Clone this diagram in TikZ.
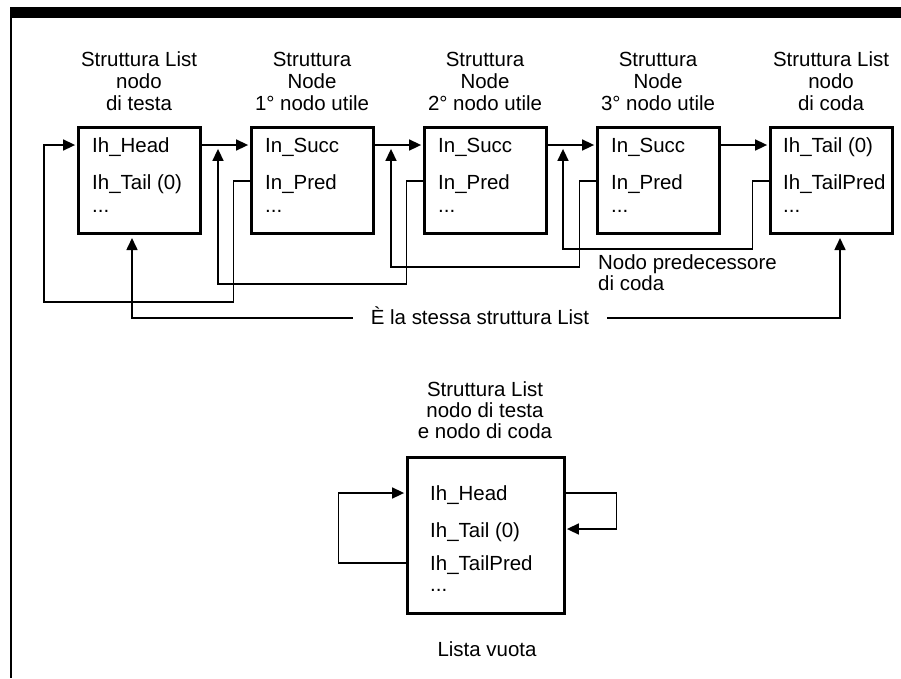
\documentclass[tikz,border=0pt]{standalone}
\usepackage{fontspec}
\setmainfont{Liberation Sans}
\usetikzlibrary{arrows.meta}
\newlength\probew
\newcommand\tf{\fontsize{\fsz}{17}\selectfont}
\newcommand\ctr[2]{\vtop{\baselineskip=#1\relax\halign{\hfil##\hfil\cr#2\crcr}}}
\newcommand\lft[2]{\vtop{\baselineskip=#1\relax\halign{##\hfil\cr#2\crcr}}}
\begin{document}
\settowidth\probew{\fontsize{10}{12}\selectfont Struttura List}%
\pgfmathsetmacro\fsz{10*116/\probew}%
\begin{tikzpicture}[x=1pt,y=-1pt,
  txt/.style={font=\tf, inner sep=0pt},
  box/.style={draw, line width=3pt, minimum width=122pt, minimum height=106pt, inner sep=0pt},
  bigbox/.style={draw, line width=3pt, minimum width=157pt, minimum height=156pt, inner sep=0pt},
  fld/.style={txt, anchor=base west},
  lbl/.style={txt, anchor=base},
  conn/.style={line width=1.6pt},
  arr/.style={conn, -{Triangle[length=12pt,width=11pt]}, shorten >=1.4pt},
]
\useasboundingbox (0,0) rectangle (901,678);
% frame
\fill (10,7) rectangle (901,18);
\draw[line width=2pt] (11,7) -- (11,678);
% boxes
\node[box] (b1) at (139,180) {};
\node[box] (b2) at (312,180) {};
\node[box] (b3) at (485,180) {};
\node[box] (b4) at (658,180) {};
\node[box] (b5) at (831,180) {};
% labels above
\node[lbl] (t1) at (139,66) {\ctr{22pt}{Struttura List\cr nodo\cr di testa}};
\node[lbl] (t2) at (312,66) {\ctr{22pt}{Struttura\cr Node\cr 1° nodo utile}};
\node[lbl] (t3) at (485,66) {\ctr{22pt}{Struttura\cr Node\cr 2° nodo utile}};
\node[lbl] (t4) at (658,66) {\ctr{22pt}{Struttura\cr Node\cr 3° nodo utile}};
\node[lbl] (t5) at (831,66) {\ctr{22pt}{Struttura List\cr nodo\cr di coda}};
% fields
\node[fld] (f1a) at (92,152) {Ih\_Head};
\node[fld] (f1b) at (92,189) {Ih\_Tail (0)};
\node[fld] (f1c) at (92,212) {...};
\node[fld] (f2a) at (265,152) {In\_Succ};
\node[fld] (f2b) at (265,189) {In\_Pred};
\node[fld] (f2c) at (265,212) {...};
\node[fld] (f3a) at (438,152) {In\_Succ};
\node[fld] (f3b) at (438,189) {In\_Pred};
\node[fld] (f3c) at (438,212) {...};
\node[fld] (f4a) at (611,152) {In\_Succ};
\node[fld] (f4b) at (611,189) {In\_Pred};
\node[fld] (f4c) at (611,212) {...};
\node[fld] (f5a) at (783,152) {Ih\_Tail (0)};
\node[fld] (f5b) at (783,189) {Ih\_TailPred};
\node[fld] (f5c) at (783,212) {...};
% helper coordinates
\coordinate (r1) at (0,145);
\coordinate (r2) at (0,181);
\coordinate (r3) at (0,318);
\coordinate (u1) at (218,147.5);
\coordinate (u2) at (391,147.5);
\coordinate (u3) at (563,147.5);
\coordinate (l0) at (44,145);
% successor arrows
\draw[arr] (b1.east |- r1) -- (b2.west |- r1);
\draw[arr] (b2.east |- r1) -- (b3.west |- r1);
\draw[arr] (b3.east |- r1) -- (b4.west |- r1);
\draw[arr] (b4.east |- r1) -- (b5.west |- r1);
% predecessor loops
\draw[arr] (b2.west |- r2) -- ++(-16,0) -- ++(0,121) -| (l0) -- (b1.west |- r1);
\draw[arr] (b3.west |- r2) -- ++(-16,0) -- ++(0,103) -| (u1);
\draw[arr] (b4.west |- r2) -- ++(-16,0) -- ++(0,86) -| (u2);
\draw[arr] (b5.west |- r2) -- ++(-16,0) -- ++(0,68) -| (u3);
\node[txt, anchor=base west] (np) at (598,269) {\lft{21pt}{Nodo predecessore\cr di coda}};
% same structure
\node[lbl, inner xsep=18pt] (eq) at (480,324) {È la stessa struttura List};
\draw[arr, shorten >=3.5pt] (eq.west |- r3) -| ([xshift=-7pt]b1.south);
\draw[arr, shorten >=3.5pt] (eq.east |- r3) -| ([xshift=9pt]b5.south);
% empty list
\node[lbl] (t6) at (485,396) {\ctr{21pt}{Struttura List\cr nodo di testa\cr e nodo di coda}};
\node[bigbox] (b6) at (485.5,535) {};
\node[fld] (f6a) at (430,500) {Ih\_Head};
\node[fld] (f6b) at (430,537) {Ih\_Tail (0)};
\node[fld] (f6c) at (430,570) {Ih\_TailPred};
\node[fld] (f6d) at (430,591) {...};
\coordinate (q1) at (0,493);
\coordinate (q2) at (0,529);
\coordinate (q3) at (0,563);
\draw[arr] (b6.west |- q3) -- ++(-67,0) |- (b6.west |- q1);
\draw[arr] (b6.east |- q1) -- ++(51,0) |- (b6.east |- q2);
\node[lbl] (lv) at (487,656) {Lista vuota};
\end{tikzpicture}
\end{document}
